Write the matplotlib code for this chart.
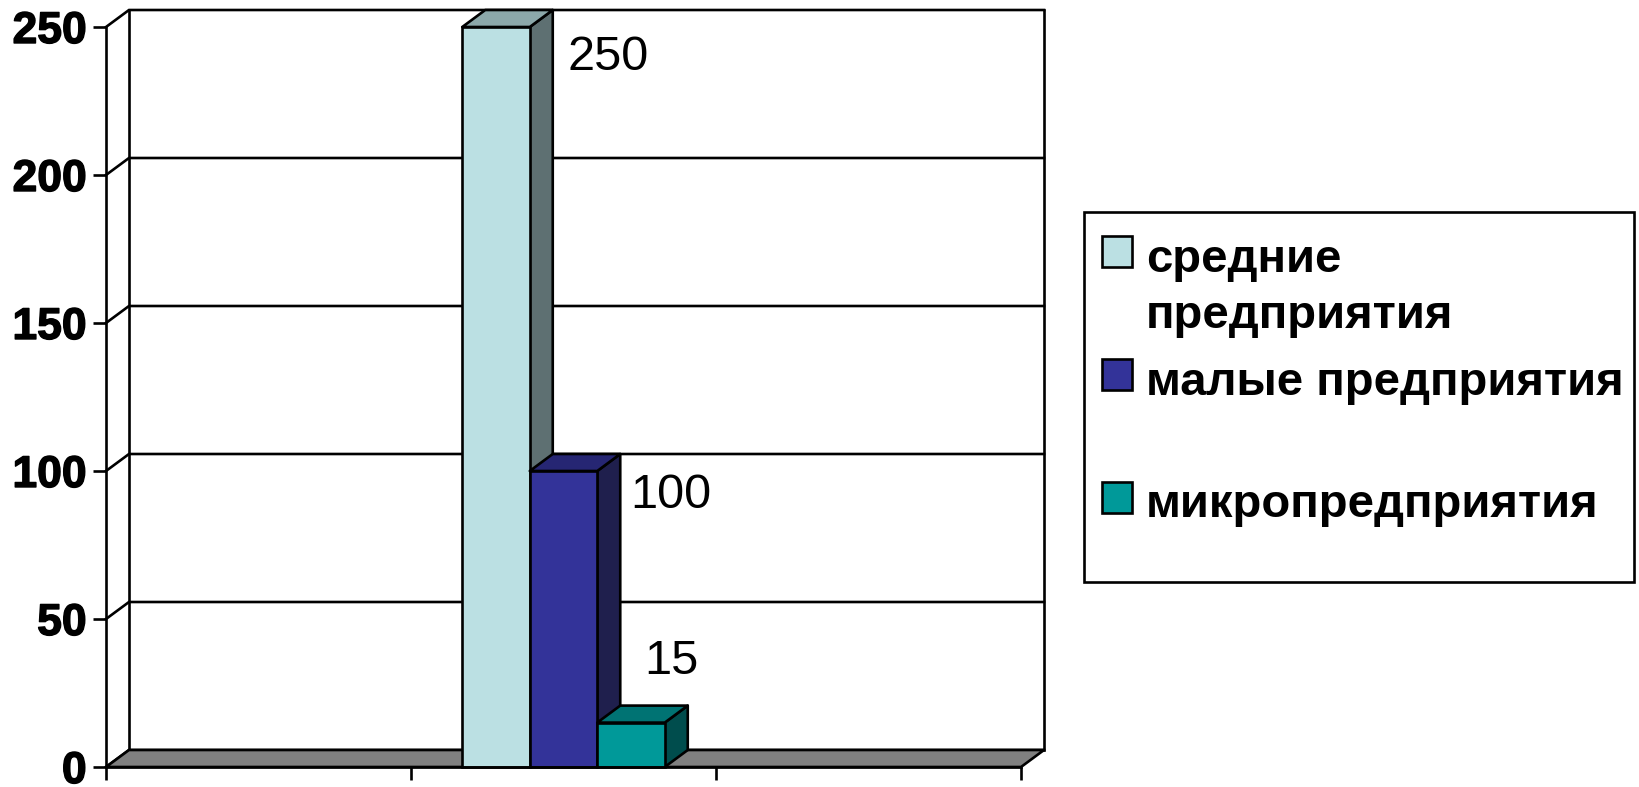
import matplotlib
matplotlib.use("Agg")
import matplotlib.pyplot as plt
import matplotlib.patheffects as pe
from matplotlib.patches import Polygon, Rectangle

plt.rcParams['font.family'] = ['Liberation Sans', 'DejaVu Sans']

# data
series_names = ["средние\nпредприятия", "малые предприятия", "микропредприятия"]
values = [250, 100, 15]
yticks = [0, 50, 100, 150, 200, 250]
n_categories = 3
data_category = 1

# style
front_colors = ["#BBE0E3", "#333399", "#009999"]
side_colors = ["#5E7072", "#1F1F4D", "#004D4D"]
top_colors = ["#8CA8AA", "#262673", "#007373"]
floor_color = "#808080"
W, H = 1640, 787
LW = 1.9

fig = plt.figure(figsize=(W/100, H/100), dpi=100, facecolor="white")
ax = fig.add_axes([106/W, (H-767)/H, 915/W, 740/H])
ax.set_xlim(0, n_categories)
ax.set_ylim(0, 250)
ax.patch.set_alpha(0)

# depth of the fake 3d, in data units
dx = 23/305
dy = 17*250/740

def poly(pts, color, z):
    ax.add_patch(Polygon(pts, closed=True, facecolor=color, edgecolor="black",
                         linewidth=LW, clip_on=False, zorder=z, joinstyle="round"))

# walls and floor
poly([(0, 0), (dx, dy), (n_categories+dx, dy), (n_categories, 0)], floor_color, 1)
for t in yticks:
    ax.plot([0, dx, n_categories+dx], [t, t+dy, t+dy], color="black", lw=LW,
            clip_on=False, zorder=0.5, solid_joinstyle="miter")
ax.plot([dx, dx], [dy, 250+dy], color="black", lw=LW, clip_on=False, zorder=0.5)
ax.plot([n_categories+dx]*2, [dy, 250+dy], color="black", lw=LW, clip_on=False, zorder=0.5)

# bars
width = 67.5/305
start = data_category + 0.5 - width*len(values)/2
for i, v in enumerate(values):
    x0 = start + i*width
    x1 = x0 + width
    z = 2 + i
    poly([(x1, 0), (x1+dx, dy), (x1+dx, v+dy), (x1, v)], side_colors[i], z)
    poly([(x0, v), (x0+dx, v+dy), (x1+dx, v+dy), (x1, v)], top_colors[i], z)
    ax.bar(x0, v, width=width, align="edge", color=front_colors[i], edgecolor="black",
           linewidth=LW, clip_on=False, zorder=z+0.1)

# value labels, offsets in pixels from the bar's top right corner
label_offsets = [(78, -31), (74, -25), (7, 61)]
for i, v in enumerate(values):
    x1 = start + (i+1)*width
    ax.annotate(str(v), (x1, v), xytext=(label_offsets[i][0]*0.72, label_offsets[i][1]*0.72),
                textcoords="offset points", ha="center", va="center", fontsize=35,
                color="black", zorder=10, annotation_clip=False)

ax.spines["top"].set_visible(False)
ax.spines["right"].set_visible(False)
ax.spines["left"].set_linewidth(LW)
ax.spines["bottom"].set_linewidth(LW)
ax.spines["left"].set_zorder(6)
ax.spines["bottom"].set_zorder(6)
ax.set_xticks(range(n_categories+1))
ax.set_xticklabels([])
ax.set_yticks(yticks)
ax.set_yticklabels([str(t) for t in yticks], fontsize=32, fontweight="bold", va="center_baseline",
                   path_effects=[pe.withStroke(linewidth=1.0, foreground="black")])
ax.tick_params(axis="both", length=9.4, width=LW, direction="out")
ax.tick_params(axis="y", pad=4.5)

# legend box, drawn by hand as the rows are unevenly spaced
def fx(px):
    return px/W
def fy(py):
    return 1 - py/H

fig.add_artist(Rectangle((fx(1084), fy(582)), 550/W, 370/H, transform=fig.transFigure,
                         facecolor="white", edgecolor="black", linewidth=LW))
swatch_tops = [236, 359, 482]
text_rows = [(255, "средние"), (311, "предприятия"), (378, "малые предприятия"), (500, "микропредприятия")]
for i, top in enumerate(swatch_tops):
    fig.add_artist(Rectangle((fx(1102), fy(top+31)), 30/W, 31/H, transform=fig.transFigure,
                             facecolor=front_colors[i], edgecolor="black", linewidth=LW))
for py, txt in text_rows:
    fig.text(fx(1146), fy(py), txt, fontsize=34, fontweight="bold", ha="left",
             va="center_baseline", color="black")

fig.savefig("out.png", dpi=100)
